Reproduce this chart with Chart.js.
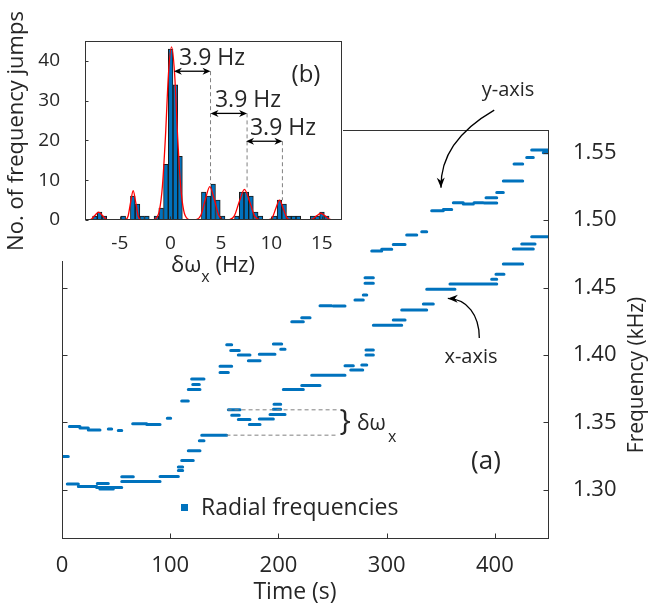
<!DOCTYPE html>
<html>
<head>
<meta charset="utf-8">
<script src="https://cdn.jsdelivr.net/npm/chart.js@4.4.0/dist/chart.umd.min.js"></script>
<style>
  html, body { margin: 0; padding: 0; background: #fff; }
  #wrap { position: relative; width: 649px; height: 608px; }
  #main, #inset { position: absolute; left: 0; top: 0; }
</style>
</head>
<body>
<div id="wrap">
  <canvas id="main" width="649" height="608"></canvas>
  <canvas id="inset" width="343" height="290"></canvas>
</div>
<script>
// ---------- main plot (a): radial frequencies, one dash = [start s, end s, kHz]
const xStart = [1.2, 4.9, 15.1, 32.0, 35.0, 32.6, 55.2, 55.2, 90.6, 107.5, 107.5, 110.6, 116.7, 126.9, 129.1,
  153.7, 156.8, 162.9, 173.1, 182.3, 192.2, 195.3, 195.9, 204.5, 221.5, 230.7, 261.5, 266.8, 277.0, 280.9,
  280.9, 287.7, 306.1, 313.9, 333.9, 337.0, 358.5, 397.0, 401.0, 407.8, 417.0, 424.8, 434.0];
const xEnd = [5.8, 15.1, 32.1, 55.2, 47.4, 42.8, 65.9, 90.6, 107.5, 111.5, 111.5, 121.3, 127.5, 131.2, 152.2,
  164.5, 163.8, 173.7, 183.0, 195.3, 206.1, 202.1, 202.1, 223.0, 238.4, 261.5, 269.2, 277.9, 281.6, 287.7,
  287.7, 313.9, 317.0, 337.0, 343.1, 363.1, 401.7, 401.7, 408.4, 425.7, 435.5, 437.1, 450.0];
const xFreq = [1.3247, 1.3042, 1.3024, 1.3017, 1.3005, 1.3047, 1.3096, 1.3061, 1.3099, 1.3168, 1.3143, 1.3217, 1.3289, 1.3363, 1.3405,
  1.3593, 1.3553, 1.3521, 1.3484, 1.3524, 1.3558, 1.3598, 1.3635, 1.3743, 1.3773, 1.3850, 1.3919, 1.3889, 1.3926, 1.4000,
  1.4037, 1.4220, 1.4259, 1.4333, 1.4378, 1.4487, 1.4526, 1.4561, 1.4598, 1.4674, 1.4785, 1.4822, 1.4876];

const yStart = [6.8, 16.6, 24.3, 42.8, 52.0, 65.3, 78.3, 97.3, 110.6, 116.7, 120.8, 119.8, 146.0, 146.0, 152.2,
  155.9, 162.9, 172.2, 182.3, 195.3, 202.1, 212.3, 221.5, 238.4, 250.7, 270.7, 278.4, 280.0, 280.0, 286.2,
  295.4, 306.1, 318.5, 332.4, 341.6, 352.3, 361.6, 370.8, 380.7, 390.2, 391.8, 401.7, 407.8, 417.7, 429.4, 434.0, 444.7];
const yEnd = [16.6, 24.3, 35.1, 45.9, 55.2, 78.3, 90.6, 100.4, 116.7, 127.5, 126.9, 131.2, 153.7, 156.8, 156.8,
  163.8, 173.7, 183.0, 196.8, 203.0, 206.1, 223.0, 229.2, 249.2, 261.5, 278.4, 281.6, 287.7, 287.7, 295.4,
  304.7, 317.0, 327.8, 337.0, 352.3, 360.1, 370.8, 380.1, 389.3, 401.7, 401.7, 407.8, 425.7, 425.7, 435.5, 449.4, 450.0];
const yFreq = [1.3469, 1.3459, 1.3444, 1.3450, 1.3439, 1.3489, 1.3484, 1.3531, 1.3659, 1.3743, 1.3780, 1.3822, 1.3869, 1.3916, 1.4076,
  1.4032, 1.4000, 1.3956, 1.4005, 1.4081, 1.4042, 1.4246, 1.4276, 1.4365, 1.4363, 1.4407, 1.4444, 1.4531, 1.4573, 1.4770,
  1.4783, 1.4818, 1.4890, 1.4913, 1.5069, 1.5079, 1.5128, 1.5119, 1.5128, 1.5126, 1.5165, 1.5205, 1.5289, 1.5415, 1.5464, 1.5519, 1.5499];

const timeTicks = [0, 100, 200, 300, 400];
const freqTicks = [1.30, 1.35, 1.40, 1.45, 1.50, 1.55];

// ---------- inset (b): histogram of frequency jumps
const binCenters = [-7.47, -7.00, -6.53, -6.06, -5.60, -5.13, -4.66, -4.19, -3.72, -3.25,
  -2.79, -2.32, -1.85, -1.38, -0.91, -0.44, 0.03, 0.50, 0.96, 1.43,
  1.90, 2.37, 2.84, 3.31, 3.78, 4.24, 4.71, 5.18, 5.65, 6.12,
  6.59, 7.06, 7.53, 7.99, 8.46, 8.93, 9.40, 9.87, 10.34, 10.81,
  11.27, 11.74, 12.21, 12.68, 13.15, 13.62, 14.09, 14.55, 15.02, 15.49];
const jumpCounts = [1, 2, 1, 0, 0, 0, 1, 0, 6, 4,
  1, 1, 0, 1, 3, 14, 43, 34, 16, 0,
  0, 0, 0, 7, 6, 9, 5, 1, 0, 0,
  1, 7, 7, 6, 2, 1, 0, 0, 1, 5,
  4, 1, 1, 1, 0, 0, 1, 1, 2, 1];
// red fitted curve
const fitHz = [-8.3, -8.15, -7.8, -7.45, -7.1, -6.75, -6.4, -6.05, -5.6, -4.6, -4.43, -4.18, -3.93, -3.68, -3.43, -3.18, -2.93, -2.5,
  -1.9, -1.48, -1.08, -0.78, -0.48, -0.18, 0.12, 0.42, 0.72, 1.02, 1.32, 1.72, 2.1, 2.56, 3.01, 3.46, 3.91, 4.36, 4.81, 5.26,
  5.55, 5.84, 6.34, 6.84, 7.34, 7.84, 8.34, 8.84, 9.3, 9.76, 10.11, 10.46, 10.81, 11.16, 11.51, 11.86,
  12.5, 13.3, 13.64, 14.06, 14.48, 14.9, 15.32, 15.74, 16.16, 16.5];
const fitVal = [0, 0.02, 0.27, 1.2, 2.0, 1.2, 0.27, 0.02, 0, 0, 0.08, 1.0, 4.5, 7.4, 4.5, 1.0, 0.08, 0,
  0, 0.26, 2.4, 8.6, 21.1, 36.9, 43.5, 36.9, 21.1, 8.6, 2.4, 0.26, 0, 0.09, 1.14, 5.1, 8.4, 5.1, 1.14, 0.09,
  0, 0.09, 1.04, 4.7, 7.7, 4.7, 1.04, 0.09, 0, 0.06, 0.68, 3.0, 5.0, 3.0, 0.68, 0.06,
  0, 0, 0.02, 0.23, 1.03, 1.7, 1.03, 0.23, 0.02, 0];
const hzTicks = [-5, 0, 5, 10, 15];
const countTicks = [0, 10, 20, 30, 40];
// spacing arrows: [from Hz, to Hz, height]
const spacingArrows = [[0.35, 3.98, 37.4], [3.98, 7.6, 26.8], [7.5, 11.1, 19.8]];
// dashed guides: [Hz, top, bottom]
const spacingGuides = [[3.98, 37.4, 9], [7.6, 26.8, 7.5], [11.1, 19.8, 5]];

const blue = '#0072BD';
const textColor = '#262626';
const axisColor = '#333333';
const FONT = '"Open Sans", "Noto Sans", sans-serif';

function dashesToPoints(starts, ends, freqs) {
  const pts = [];
  for (let i = 0; i < starts.length; i++) {
    pts.push({ x: starts[i], y: freqs[i] }, { x: ends[i], y: freqs[i] }, { x: ends[i], y: null });
  }
  return pts;
}

function txt(ctx, s, x, y, size, align, base, rot) {
  ctx.save();
  ctx.translate(x, y);
  if (rot) ctx.rotate(rot);
  ctx.font = size + 'px ' + FONT;
  ctx.fillStyle = textColor;
  ctx.textAlign = align || 'center';
  ctx.textBaseline = base || 'middle';
  ctx.fillText(s, 0, 0);
  ctx.restore();
}

function arrowHead(ctx, x, y, ang, len, half) {
  const c = Math.cos(ang), s = Math.sin(ang);
  ctx.beginPath();
  ctx.moveTo(x, y);
  ctx.lineTo(x - len * c + half * s, y - len * s - half * c);
  ctx.lineTo(x - len * 0.7 * c, y - len * 0.7 * s);
  ctx.lineTo(x - len * c - half * s, y - len * s + half * c);
  ctx.closePath();
  ctx.fill();
}

// curved arrow through 4 data points (cubic bezier)
function curvedArrow(ctx, xs, ys, pts) {
  const p = pts.map(q => [xs.getPixelForValue(q[0]), ys.getPixelForValue(q[1])]);
  ctx.save();
  ctx.strokeStyle = '#000'; ctx.fillStyle = '#000'; ctx.lineWidth = 1.3;
  ctx.beginPath();
  ctx.moveTo(p[0][0], p[0][1]);
  ctx.bezierCurveTo(p[1][0], p[1][1], p[2][0], p[2][1], p[3][0], p[3][1]);
  ctx.stroke();
  arrowHead(ctx, p[3][0], p[3][1], Math.atan2(p[3][1] - p[2][1], p[3][0] - p[2][0]), 10, 4);
  ctx.restore();
}

const mainDecor = {
  id: 'mainDecor',
  afterDraw(chart) {
    const ctx = chart.ctx, a = chart.chartArea;
    const xs = chart.scales.x, ys = chart.scales.y;
    ctx.save();
    // box + inward ticks
    ctx.strokeStyle = axisColor; ctx.lineWidth = 1;
    const L = Math.round(a.left) + 0.5, R = Math.round(a.right) - 0.5;
    const T = Math.round(a.top) + 0.5, B = Math.round(a.bottom) - 0.5;
    ctx.strokeRect(L, T, R - L, B - T);
    ctx.beginPath();
    timeTicks.forEach(v => {
      const px = Math.round(xs.getPixelForValue(v)) + 0.5;
      ctx.moveTo(px, B); ctx.lineTo(px, B - 5);
    });
    freqTicks.forEach(v => {
      const py = Math.round(ys.getPixelForValue(v)) + 0.5;
      ctx.moveTo(L, py); ctx.lineTo(L + 5, py);
      ctx.moveTo(R, py); ctx.lineTo(R - 5, py);
    });
    ctx.stroke();

    // delta-omega bracket guides
    ctx.strokeStyle = '#808080'; ctx.setLineDash([4, 3]);
    ctx.beginPath();
    let y1 = ys.getPixelForValue(1.3593), y2 = ys.getPixelForValue(1.3405);
    ctx.moveTo(xs.getPixelForValue(153), y1); ctx.lineTo(xs.getPixelForValue(255.5), y1);
    ctx.moveTo(xs.getPixelForValue(152), y2); ctx.lineTo(xs.getPixelForValue(255.5), y2);
    ctx.stroke();
    ctx.setLineDash([]);
    txt(ctx, '}', 345, 421, 30);
    txt(ctx, 'δω', 357, 430, 21, 'left', 'alphabetic');
    txt(ctx, 'x', 388, 442, 16, 'left', 'alphabetic');

    // arrows pointing at both tracks
    curvedArrow(ctx, xs, ys, [[399.4, 1.5815], [362.5, 1.5644], [349.6, 1.5444], [350.2, 1.5240]]);
    curvedArrow(ctx, xs, ys, [[385.6, 1.4126], [385.6, 1.4296], [374.5, 1.4415], [356.5, 1.4419]]);
    txt(ctx, 'y-axis', 508, 90, 20);
    txt(ctx, 'x-axis', 471, 357, 20);
    txt(ctx, '(a)', 486, 462, 26);

    // legend
    ctx.fillStyle = blue;
    ctx.fillRect(181, 504, 7, 7);
    txt(ctx, 'Radial frequencies', 201, 508, 23, 'left');

    // axis titles
    txt(ctx, 'Time (s)', 295, 592, 23);
    txt(ctx, 'Frequency (kHz)', 637, 375, 21, 'center', 'middle', -Math.PI / 2);
    ctx.restore();
  }
};

new Chart(document.getElementById('main'), {
  type: 'line',
  data: {
    datasets: [
      { label: 'x-axis', data: dashesToPoints(xStart, xEnd, xFreq) },
      { label: 'y-axis', data: dashesToPoints(yStart, yEnd, yFreq) }
    ].map(d => Object.assign(d, {
      borderColor: blue, borderWidth: 3, borderCapStyle: 'round',
      pointRadius: 0, spanGaps: false, tension: 0, fill: false
    }))
  },
  options: {
    responsive: false, animation: false, events: [],
    layout: { padding: { top: 130, left: 0, right: 0, bottom: 0 } },
    plugins: { legend: { display: false }, tooltip: { enabled: false } },
    scales: {
      x: {
        type: 'linear', position: 'bottom', min: 0, max: 450,
        grid: { display: false }, border: { display: false },
        afterBuildTicks: s => { s.ticks = timeTicks.map(v => ({ value: v })); },
        afterFit: s => { s.height = 69; },
        ticks: { color: textColor, font: { family: FONT, size: 22 }, padding: 6, maxRotation: 0, autoSkip: false }
      },
      y: {
        type: 'linear', position: 'right', min: 1.2635, max: 1.5668,
        grid: { display: false }, border: { display: false },
        afterBuildTicks: s => { s.ticks = freqTicks.map(v => ({ value: v })); },
        afterFit: s => { s.width = 100; },
        ticks: { color: textColor, font: { family: FONT, size: 22 }, padding: 16, callback: v => v.toFixed(2) }
      },
      yl: {
        type: 'linear', position: 'left', min: 1.2635, max: 1.5668,
        grid: { display: false }, border: { display: false },
        ticks: { display: false },
        afterFit: s => { s.width = 62; }
      }
    }
  },
  plugins: [mainDecor]
});

// ---------- inset chart
const insetDecor = {
  id: 'insetDecor',
  beforeDraw(chart) {
    const ctx = chart.ctx;
    ctx.save();
    ctx.fillStyle = '#fff';
    ctx.fillRect(0, 0, 343, 261);
    ctx.restore();
  },
  afterDraw(chart) {
    const ctx = chart.ctx, a = chart.chartArea;
    const xs = chart.scales.x, ys = chart.scales.y;
    ctx.save();
    ctx.strokeStyle = axisColor; ctx.lineWidth = 1;
    const L = Math.round(a.left) + 0.5, R = Math.round(a.right) - 0.5;
    const T = Math.round(a.top) + 0.5, B = Math.round(a.bottom) - 0.5;
    ctx.strokeRect(L, T, R - L, B - T);
    ctx.beginPath();
    countTicks.forEach(v => {
      const py = Math.round(ys.getPixelForValue(v)) + 0.5;
      ctx.moveTo(L, py); ctx.lineTo(L + 3, py);
    });
    hzTicks.forEach(v => {
      const px = Math.round(xs.getPixelForValue(v)) + 0.5;
      ctx.moveTo(px, B); ctx.lineTo(px, B - 3);
    });
    ctx.stroke();

    // dashed guides
    ctx.strokeStyle = '#808080'; ctx.setLineDash([4, 3]);
    ctx.beginPath();
    spacingGuides.forEach(g => {
      const px = xs.getPixelForValue(g[0]);
      ctx.moveTo(px, ys.getPixelForValue(g[1])); ctx.lineTo(px, ys.getPixelForValue(g[2]));
    });
    ctx.stroke();
    ctx.setLineDash([]);

    // double arrows
    ctx.strokeStyle = '#000'; ctx.fillStyle = '#000'; ctx.lineWidth = 1.3;
    spacingArrows.forEach(s => {
      const x1 = xs.getPixelForValue(s[0]), x2 = xs.getPixelForValue(s[1]), py = ys.getPixelForValue(s[2]);
      ctx.beginPath(); ctx.moveTo(x1 + 4, py); ctx.lineTo(x2 - 4, py); ctx.stroke();
      arrowHead(ctx, x2, py, 0, 8, 3.5);
      arrowHead(ctx, x1, py, Math.PI, 8, 3.5);
    });

    txt(ctx, '3.9 Hz', 212, 58, 23);
    txt(ctx, '3.9 Hz', 248, 100, 23);
    txt(ctx, '3.9 Hz', 283, 128, 23);
    txt(ctx, '(b)', 306, 75, 24);

    // axis titles
    txt(ctx, 'No. of frequency jumps', 17, 131, 22, 'center', 'middle', -Math.PI / 2);
    ctx.save();
    ctx.font = '22px ' + FONT;
    const w1 = ctx.measureText('δω').width, w3 = ctx.measureText(' (Hz)').width;
    ctx.font = '16px ' + FONT;
    const w2 = ctx.measureText('x').width;
    ctx.restore();
    const x0 = 213 - (w1 + w2 + w3) / 2;
    txt(ctx, 'δω', x0, 272, 22, 'left', 'alphabetic');
    txt(ctx, 'x', x0 + w1, 282, 16, 'left', 'alphabetic');
    txt(ctx, ' (Hz)', x0 + w1 + w2, 272, 22, 'left', 'alphabetic');
    ctx.restore();
  }
};

new Chart(document.getElementById('inset'), {
  type: 'bar',
  data: {
    datasets: [
      {
        type: 'line', label: 'fit', order: 0,
        data: fitHz.map((h, i) => ({ x: h, y: fitVal[i] })),
        borderColor: '#ff0000', borderWidth: 1.3, pointRadius: 0,
        cubicInterpolationMode: 'monotone', fill: false
      },
      {
        type: 'bar', label: 'jumps', order: 1,
        data: binCenters.map((c, i) => ({ x: c, y: jumpCounts[i] })),
        backgroundColor: blue, borderColor: '#1a1a1a', borderWidth: 1,
        barPercentage: 1, categoryPercentage: 1
      }
    ]
  },
  options: {
    responsive: false, animation: false, events: [],
    layout: { padding: { top: 41, left: 0, right: 1, bottom: 0 } },
    plugins: { legend: { display: false }, tooltip: { enabled: false } },
    scales: {
      x: {
        type: 'linear', min: -8.45, max: 17.0, offset: false,
        grid: { display: false }, border: { display: false },
        afterBuildTicks: s => { s.ticks = hzTicks.map(v => ({ value: v })); },
        afterFit: s => { s.height = 70; },
        ticks: { color: textColor, font: { family: FONT, size: 19 }, padding: 4, maxRotation: 0, autoSkip: false }
      },
      y: {
        type: 'linear', min: 0, max: 45,
        grid: { display: false }, border: { display: false },
        afterBuildTicks: s => { s.ticks = countTicks.map(v => ({ value: v })); },
        afterFit: s => { s.width = 85; },
        ticks: { color: textColor, font: { family: FONT, size: 19 }, padding: 17 }
      }
    }
  },
  plugins: [insetDecor]
});
</script>
</body>
</html>
